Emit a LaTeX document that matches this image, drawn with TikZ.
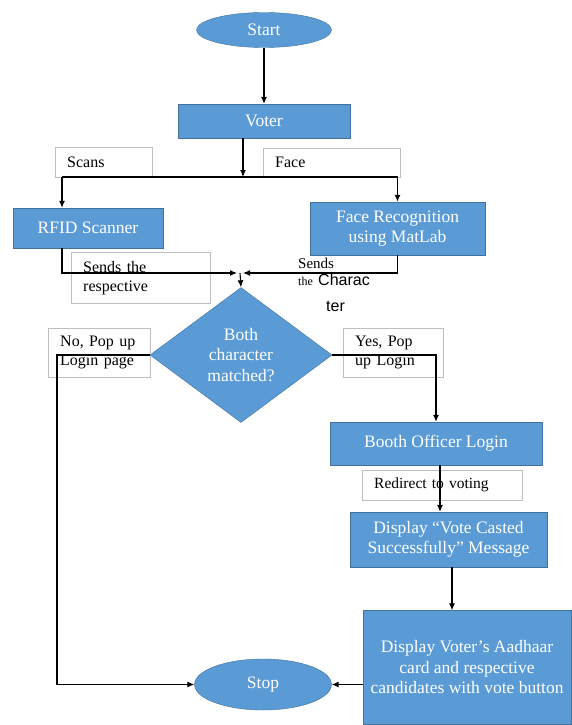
\documentclass[tikz,border=0pt]{standalone}
\usepackage{fontspec}
\setmainfont{Liberation Serif}
\setsansfont{Liberation Sans}
\usetikzlibrary{shapes.geometric, arrows.meta}

\definecolor{boxblue}{HTML}{5B9BD5}
\definecolor{boxedge}{HTML}{41719C}

\begin{document}
\begin{tikzpicture}[x=1pt, y=-1pt,
    every node/.style={font=\fontsize{16}{20}\selectfont},
    proc/.style={draw=boxedge, fill=boxblue, text=white, align=center, inner sep=2pt,
        font=\fontsize{17.5}{20.5}\selectfont},
    term/.style={proc, ellipse},
    lbl/.style={draw=black!25, fill=white, anchor=north west, align=left,
        inner xsep=12pt, inner ysep=0pt, font=\fontsize{16}{19}\selectfont},
    wire/.style={line width=1.1pt},
    flow/.style={wire, -{Latex[length=7pt, width=6pt]}}]
    \useasboundingbox (0,0) rectangle (571,725);

    % Labels on the connectors
    \node[lbl, text width=73, minimum height=30] (scans) at (55,147) {Scans};
    \node[lbl, text width=113, minimum height=29] (facelbl) at (263,148) {Face};
    \node[lbl, text width=115, minimum height=51] (sends) at (71,252) {Sends the\\respective};
    \node[lbl, text width=78, minimum height=49] (no) at (48,328) {No, Pop up\\Login page};
    \node[lbl, text width=76, minimum height=49] (yes) at (343,328) {Yes, Pop\\up Login};
    \node[lbl, text width=136, minimum height=30, font=\fontsize{15.5}{19}\selectfont] (redirect)
        at (362,470) {Redirect to voting};

    \node[anchor=base west, inner sep=0, font=\fontsize{15}{18}\selectfont] (sendsa) at (298,268) {Sends};
    \node[anchor=base west, inner sep=0, font=\fontsize{12}{14}\selectfont] (sendsb) at (298,285) {the};
    \node[anchor=base west, inner sep=0, font=\sffamily\fontsize{16}{19}\selectfont] (charac) at (318,285) {Charac};
    \node[anchor=base west, inner sep=0, font=\sffamily\fontsize{16}{19}\selectfont] (characb) at (326,311) {ter};

    % Steps
    \node[term, minimum width=135, minimum height=35] (start) at (264,30) {Start};
    \node[proc, minimum width=172, minimum height=34] (voter) at (264,121) {Voter};
    \node[proc, minimum width=150, minimum height=40] (rfid) at (88,228) {RFID Scanner};
    \node[proc, minimum width=175, minimum height=53] (face) at (397.5,228.5) {Face Recognition\\using MatLab};
    \node[proc, diamond, minimum width=182, minimum height=135, inner sep=1pt] (match) at (241,355)
        {Both\\character\\matched?};
    \node[proc, minimum width=212, minimum height=43] (booth) at (436,443.5) {Booth Officer Login};
    \node[proc, minimum width=197, minimum height=55] (display) at (448.5,539.5)
        {Display ``Vote Casted\\Successfully'' Message};
    \node[proc, minimum width=208, minimum height=114] (aadhaar) at (467,667.5)
        {Display Voter's Aadhaar\\card and respective\\candidates with vote button};
    \node[term, minimum width=137, minimum height=51] (stop) at (263,684.5) {Stop};

    % Connectors
    \coordinate (split) at (243,177);
    \coordinate (rfidin) at (62,177);
    \coordinate (facein) at (397.5,177);
    \coordinate (merge) at (240,273);
    \coordinate (nobend) at (57,355);

    \draw[flow] (start) -- (voter);
    \draw[flow] (voter.south -| split) -- (split);
    \draw[wire] (rfidin) -- (facein);
    \draw[flow] (rfidin) -- (rfidin |- rfid.north);
    \draw[flow] (facein) -- (face.north);
    \draw[flow, shorten >=3pt] (rfid.south -| rfidin) |- (merge);
    \draw[flow, shorten >=3pt] (face.south) |- (merge);
    \draw[flow] (merge) -- (match.north);
    \draw[flow] (match.west) -- (nobend) |- (stop.west);
    \draw[flow] (match.east) -| (booth.north);
    \draw[flow] ([xshift=4pt]booth.south) -- ([xshift=4pt]booth.south |- display.north);
    \draw[flow] ([xshift=3.5pt]display.south) -- ([xshift=3.5pt]display.south |- aadhaar.north);
    \draw[flow] (stop.east -| aadhaar.west) -- (stop.east);
\end{tikzpicture}
\end{document}
